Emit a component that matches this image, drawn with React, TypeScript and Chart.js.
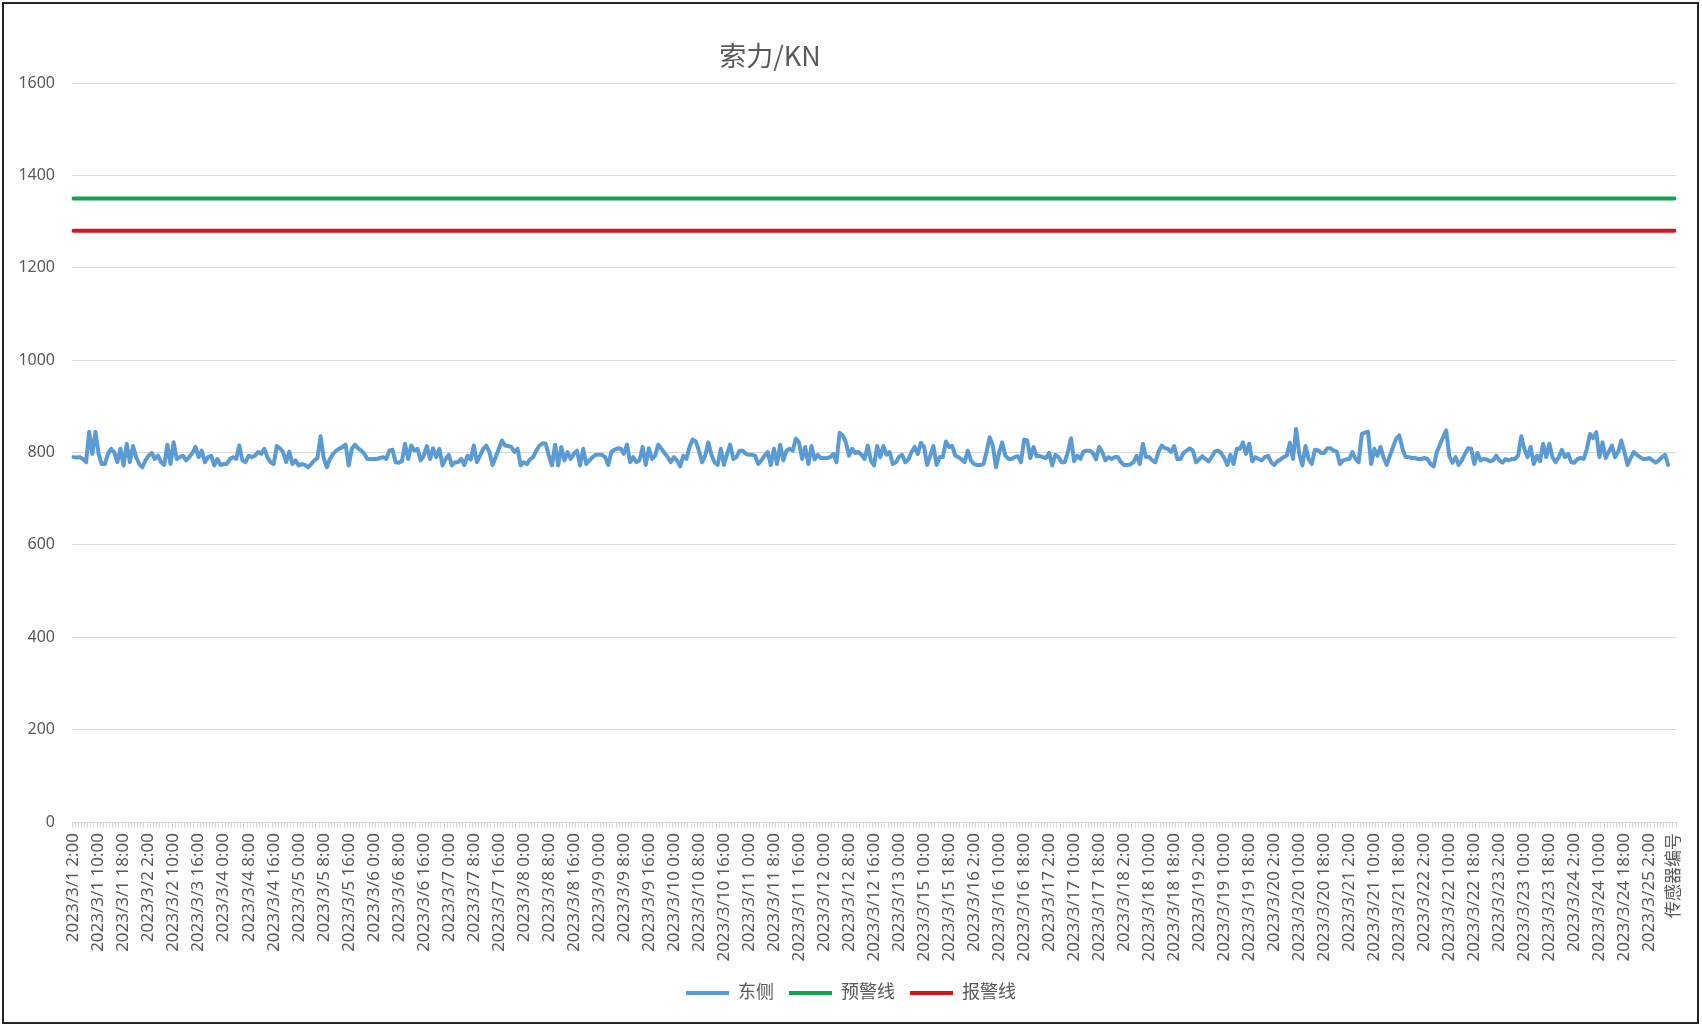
import React, { useEffect, useRef } from "react";
import { Chart, registerables } from "chart.js";

Chart.register(...registerables);

// ---------- data ----------
const chartTitle = "索力/KN";
const seriesNames = ["东侧", "预警线", "报警线"];

// one visible label every 8 categories (hourly readings)
const tickLabels = [
  "2023/3/1 2:00", "2023/3/1 10:00", "2023/3/1 18:00", "2023/3/2 2:00", "2023/3/2 10:00",
  "2023/3/3 16:00", "2023/3/4 0:00", "2023/3/4 8:00", "2023/3/4 16:00", "2023/3/5 0:00",
  "2023/3/5 8:00", "2023/3/5 16:00", "2023/3/6 0:00", "2023/3/6 8:00", "2023/3/6 16:00",
  "2023/3/7 0:00", "2023/3/7 8:00", "2023/3/7 16:00", "2023/3/8 0:00", "2023/3/8 8:00",
  "2023/3/8 16:00", "2023/3/9 0:00", "2023/3/9 8:00", "2023/3/9 16:00", "2023/3/10 0:00",
  "2023/3/10 8:00", "2023/3/10 16:00", "2023/3/11 0:00", "2023/3/11 8:00", "2023/3/11 16:00",
  "2023/3/12 0:00", "2023/3/12 8:00", "2023/3/12 16:00", "2023/3/13 0:00", "2023/3/15 10:00",
  "2023/3/15 18:00", "2023/3/16 2:00", "2023/3/16 10:00", "2023/3/16 18:00", "2023/3/17 2:00",
  "2023/3/17 10:00", "2023/3/17 18:00", "2023/3/18 2:00", "2023/3/18 10:00", "2023/3/18 18:00",
  "2023/3/19 2:00", "2023/3/19 10:00", "2023/3/19 18:00", "2023/3/20 2:00", "2023/3/20 10:00",
  "2023/3/20 18:00", "2023/3/21 2:00", "2023/3/21 10:00", "2023/3/21 18:00", "2023/3/22 2:00",
  "2023/3/22 10:00", "2023/3/22 18:00", "2023/3/23 2:00", "2023/3/23 10:00", "2023/3/23 18:00",
  "2023/3/24 2:00", "2023/3/24 10:00", "2023/3/24 18:00", "2023/3/25 2:00", "传感器编号",
];
const labelStep = 8;

// 东侧 cable force readings (kN)
const eastSide = [
  790, 789, 790, 786, 779, 845, 797, 845, 797, 775,
  775, 797, 808, 801, 779, 808, 772, 819, 779, 814,
  790, 775, 768, 783, 793, 799, 786, 793, 779, 773,
  817, 775, 822, 786, 790, 793, 783, 790, 799, 812,
  790, 804, 779, 790, 793, 772, 786, 773, 775, 775,
  786, 790, 786, 815, 783, 779, 793, 790, 793, 801,
  797, 808, 790, 779, 775, 814, 809, 801, 779, 802,
  775, 783, 772, 775, 773, 768, 775, 783, 788, 835,
  788, 768, 786, 797, 804, 808, 812, 817, 772, 808,
  817, 809, 804, 797, 786, 786, 786, 786, 788, 790,
  786, 804, 806, 779, 778, 781, 819, 786, 815, 804,
  808, 783, 793, 814, 786, 809, 790, 808, 772, 786,
  795, 772, 779, 779, 786, 773, 793, 785, 815,
  779, 793, 808, 815, 801, 773, 790, 808, 826, 815,
  814, 812, 801, 808, 772, 779, 775, 785, 790, 804,
  815, 820, 819, 793, 772, 817, 772, 812, 783, 801,
  786, 797, 804, 772, 808, 775, 783, 790, 795, 795,
  795, 790, 773, 801, 806, 809, 808, 797, 817, 779,
  790, 779, 783, 812, 773, 809, 786, 793, 817, 808,
  799, 790, 779, 790, 783, 770, 793, 786, 812, 828,
  824, 804, 779, 793, 822, 795, 779, 773, 808, 773,
  797, 817, 786, 790, 804, 804, 797, 795, 795, 793,
  775, 783, 793, 801, 773, 808, 775, 817, 783, 804,
  808, 804, 830, 822, 786, 812, 775, 814, 785, 795,
  788, 788, 788, 790, 797, 779, 843, 837, 822, 793,
  808, 799, 801, 795, 786, 815, 783, 772,
  814, 790, 814, 795, 801, 775, 779, 791, 795, 779,
  785, 801, 812, 797, 821, 812, 773, 793, 814, 773,
  790, 790, 824, 812, 814, 793, 790, 785, 779, 804,
  783, 775, 773, 773, 775, 801, 833, 815, 768, 799,
  822, 793, 786, 786, 790, 792, 779, 828, 826, 788,
  812, 792, 792, 790, 788, 799, 772, 795, 790, 779,
  779, 801, 831, 781, 793, 786, 802, 804, 804, 799,
  785, 812, 801, 783, 790, 786, 790, 790, 779, 773,
  773, 774, 779, 793, 775, 819, 790, 790, 783, 779,
  802, 815, 809, 808, 801, 814, 786, 786, 799, 804,
  809, 804, 779, 785, 792, 786, 781, 790, 802, 804,
  799, 788, 773, 795, 775, 808, 808, 822, 797, 819,
  781, 790, 786, 783, 790, 793, 779, 773,
  781, 785, 790, 793, 821, 786, 851, 797, 772, 814,
  786, 775, 806, 805, 799, 799, 809, 809, 804, 802,
  775, 783, 785, 786, 801, 786, 779, 840, 843, 845,
  775, 808, 793, 812, 788, 773, 793, 812, 830, 837,
  809, 790, 790, 788, 788, 786, 786, 788, 786, 775,
  770, 801, 817, 833, 848, 792, 778, 790, 773, 783,
  797, 809, 808, 775, 799, 783, 786, 785, 781, 783,
  793, 783, 778, 786, 783, 786, 786, 793, 835, 808,
  790, 812, 775, 793, 781, 819, 790, 819, 790, 779,
  790, 806, 790, 797, 779, 778, 786, 788, 786, 808,
  840, 831, 844, 790, 822, 788, 802, 815, 790, 801,
  826, 801, 773, 788, 801, 795, 790, 786, 786, 788,
  783, 778, 783, 790, 795, 773,
];

const warningLevel = 1350; // 预警线
const alarmLevel = 1280; // 报警线

const yMin = 0;
const yMax = 1600;
const yStep = 200;

// ---------- category labels (hourly between visible labels) ----------
function hourLater(label: string, h: number): string {
  const m = label.match(/^(\d+)\/(\d+)\/(\d+) (\d+):(\d+)$/);
  if (!m) return "";
  const d = new Date(+m[1], +m[2] - 1, +m[3], +m[4] + h, +m[5]);
  return `${d.getFullYear()}/${d.getMonth() + 1}/${d.getDate()} ${d.getHours()}:${String(d.getMinutes()).padStart(2, "0")}`;
}

const categories: string[] = [];
tickLabels.forEach((lab, k) => {
  categories.push(lab);
  if (k < tickLabels.length - 1) {
    for (let h = 1; h < labelStep; h++) categories.push(hourLater(lab, h));
  }
});

const warningSeries = categories.map(() => warningLevel);
const alarmSeries = categories.map(() => alarmLevel);

// ---------- styles ----------
const TEXT = "#595959";
const GRID = "#d9d9d9";
const FONT = '"Noto Sans", "Noto Sans CJK SC", sans-serif';
const W = 1702;
const H = 1026;

export default function App() {
  const ref = useRef<HTMLCanvasElement | null>(null);

  useEffect(() => {
    if (!ref.current) return;
    const chart = new Chart(ref.current, {
      type: "line",
      data: {
        labels: categories,
        datasets: [
          {
            label: seriesNames[0],
            data: eastSide,
            borderColor: "#5B9BD5",
            backgroundColor: "#5B9BD5",
            borderWidth: 4,
            pointRadius: 0,
            pointHoverRadius: 0,
            pointBorderWidth: 4,
            pointBorderColor: "#5B9BD5",
            borderJoinStyle: "round",
            borderCapStyle: "round",
            tension: 0,
          },
          {
            label: seriesNames[1],
            data: warningSeries,
            borderColor: "#14A150",
            backgroundColor: "#14A150",
            borderWidth: 4,
            pointRadius: 0,
            pointHoverRadius: 0,
            pointBorderWidth: 4,
            pointBorderColor: "#14A150",
            borderCapStyle: "round",
          },
          {
            label: seriesNames[2],
            data: alarmSeries,
            borderColor: "#D2161B",
            backgroundColor: "#D2161B",
            borderWidth: 4,
            pointRadius: 0,
            pointHoverRadius: 0,
            pointBorderWidth: 4,
            pointBorderColor: "#D2161B",
            borderCapStyle: "round",
          },
        ],
      },
      options: {
        responsive: false,
        animation: false,
        devicePixelRatio: 1,
        layout: { padding: { left: 0, right: 0, top: 83, bottom: 14 } },
        plugins: {
          title: { display: false },
          tooltip: { enabled: false },
          legend: {
            position: "bottom",
            labels: {
              usePointStyle: true,
              pointStyle: "line",
              pointStyleWidth: 43,
              padding: 15,
              color: TEXT,
              font: { family: FONT, size: 18 },
            },
          },
        },
        scales: {
          x: {
            type: "category",
            offset: true,
            grid: {
              display: true,
              offset: true,
              drawOnChartArea: false,
              drawTicks: true,
              tickLength: 6,
              color: GRID,
              lineWidth: 1,
            },
            border: { display: true, color: GRID, width: 1 },
            ticks: {
              autoSkip: false,
              maxRotation: 90,
              minRotation: 90,
              padding: 5,
              color: TEXT,
              font: { family: FONT, size: 17 },
              callback: (_v: any, index: number) =>
                index % labelStep === 0 ? categories[index] : "",
            },
            afterFit: (scale: any) => {
              scale.height = 147;
            },
          },
          y: {
            min: yMin,
            max: yMax,
            grid: { color: GRID, lineWidth: 1, drawTicks: false },
            border: { display: false },
            ticks: {
              stepSize: yStep,
              padding: 17,
              color: TEXT,
              font: { family: FONT, size: 16 },
              callback: (v: any) => String(v),
            },
            afterFit: (scale: any) => {
              scale.width = 72;
            },
          },
          // empty spacer on the right so the plot ends where the reference does
          spacer: {
            type: "linear",
            position: "right",
            display: true,
            grid: { display: false, drawTicks: false },
            border: { display: false },
            ticks: { display: false },
            afterFit: (scale: any) => {
              scale.width = 26;
            },
          },
        },
      },
    });
    return () => chart.destroy();
  }, []);

  return (
    <div
      style={{
        position: "fixed",
        left: 0,
        top: 0,
        width: W,
        height: H,
        background: "#ffffff",
        overflow: "hidden",
      }}
    >
      <canvas ref={ref} width={W} height={H} style={{ width: W, height: H, display: "block" }} />
      <div
        style={{
          position: "absolute",
          left: 2,
          top: 2,
          width: 1697,
          height: 1022,
          boxSizing: "border-box",
          border: "2px solid #262626",
          pointerEvents: "none",
        }}
      />
      <div
        style={{
          position: "absolute",
          left: 770,
          top: 54,
          transform: "translate(-50%, -50%)",
          fontFamily: '"Noto Sans CJK SC", "Noto Sans", sans-serif',
          fontSize: 27,
          lineHeight: 1,
          color: TEXT,
          whiteSpace: "nowrap",
        }}
      >
        {chartTitle}
      </div>
    </div>
  );
}
